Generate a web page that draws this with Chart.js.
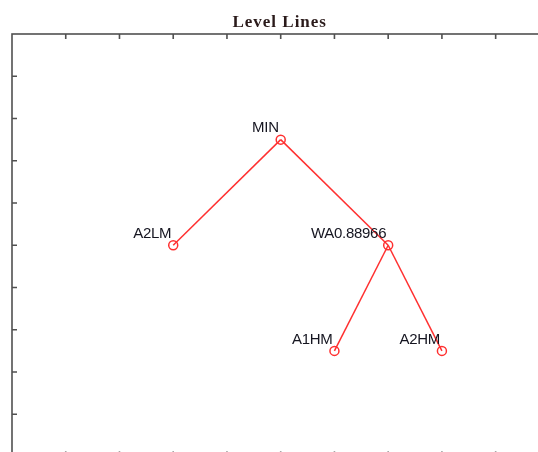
<!DOCTYPE html>
<html>
<head>
<meta charset="utf-8">
<title>Level Lines</title>
<script src="https://cdn.jsdelivr.net/npm/chart.js@4/dist/chart.umd.min.js"></script>
<style>
  html, body { margin: 0; padding: 0; background: #fff; overflow: hidden; }
  #wrap { position: absolute; left: 0; top: 0; width: 560px; height: 470px; }
</style>
</head>
<body>
<div id="wrap"><canvas id="c" width="560" height="470"></canvas></div>
<script>
// Tree nodes: name, horizontal position, level
const nodeNames  = ['MIN', 'A2LM', 'WA0.88966', 'A1HM', 'A2HM'];
const nodeX      = [5, 3, 7, 6, 8];
const nodeLevel  = [7.5, 5, 5, 2.5, 2.5];
// parent of each node (-1 = root)
const nodeParent = [-1, 0, 0, 2, 2];

// Axis tick positions (no tick labels are drawn)
const xTicks = [1, 2, 3, 4, 5, 6, 7, 8, 9];
const yTicks = [1, 2, 3, 4, 5, 6, 7, 8, 9];

const RED = '#ff3030';

// one line dataset per parent-child edge
const edgeSets = [];
nodeParent.forEach((p, i) => {
  if (p < 0) return;
  edgeSets.push({
    type: 'scatter',
    data: [{ x: nodeX[p], y: nodeLevel[p] }, { x: nodeX[i], y: nodeLevel[i] }],
    showLine: true,
    borderColor: RED,
    borderWidth: 1.5,
    pointRadius: 0,
    order: 2
  });
});

const nodeSet = {
  type: 'scatter',
  data: nodeX.map((x, i) => ({ x: x, y: nodeLevel[i], label: nodeNames[i] })),
  showLine: false,
  pointStyle: 'circle',
  pointRadius: 4.5,
  borderColor: RED,
  borderWidth: 1.5,
  backgroundColor: 'rgba(255,255,255,0)',
  order: 1
};

// frame, inward ticks, title and node labels
const decorations = {
  id: 'decorations',
  beforeDatasetsDraw(chart) {
    const { ctx, chartArea: a, scales } = chart;
    const sx = scales.x, sy = scales.y;
    ctx.save();
    ctx.strokeStyle = '#505050';
    ctx.lineWidth = 1.6;
    ctx.strokeRect(a.left, a.top, a.right - a.left, a.bottom - a.top);
    const tl = 5;
    ctx.beginPath();
    xTicks.forEach(v => {
      const px = sx.getPixelForValue(v);
      ctx.moveTo(px, a.top); ctx.lineTo(px, a.top + tl);
      ctx.moveTo(px, a.bottom); ctx.lineTo(px, a.bottom - tl);
    });
    yTicks.forEach(v => {
      const py = sy.getPixelForValue(v);
      ctx.moveTo(a.left, py); ctx.lineTo(a.left + tl, py);
      ctx.moveTo(a.right, py); ctx.lineTo(a.right - tl, py);
    });
    ctx.stroke();

    // title
    ctx.fillStyle = '#2a1a1a';
    ctx.font = 'bold 17px "Liberation Serif", "Times New Roman", serif';
    ctx.letterSpacing = '1px';
    ctx.textAlign = 'center';
    ctx.textBaseline = 'alphabetic';
    ctx.fillText('Level Lines', (a.left + a.right) / 2 - 1, 27);
    ctx.restore();
  },
  afterDatasetsDraw(chart) {
    const { ctx, scales } = chart;
    ctx.save();
    ctx.fillStyle = '#151520';
    ctx.font = '15px "Liberation Sans", Arial, sans-serif';
    ctx.letterSpacing = '-0.3px';
    ctx.textAlign = 'right';
    ctx.textBaseline = 'bottom';
    nodeNames.forEach((name, i) => {
      const px = scales.x.getPixelForValue(nodeX[i]);
      const py = scales.y.getPixelForValue(nodeLevel[i]);
      ctx.fillText(name, px - 2, py - 4);
    });
    ctx.restore();
  }
};

new Chart(document.getElementById('c'), {
  type: 'scatter',
  data: { datasets: [...edgeSets, nodeSet] },
  options: {
    responsive: false,
    animation: false,
    layout: { padding: { left: 12, top: 34, right: 10.6, bottom: 13.5 } },
    plugins: { legend: { display: false }, tooltip: { enabled: false }, title: { display: false } },
    scales: {
      x: { type: 'linear', min: 0, max: 10, display: false },
      y: { type: 'linear', min: 0, max: 10, display: false }
    }
  },
  plugins: [decorations]
});
</script>
</body>
</html>
